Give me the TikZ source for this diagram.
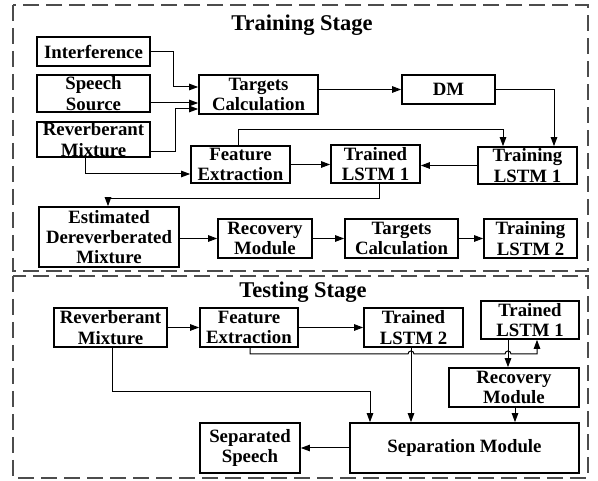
\documentclass[tikz,border=0pt]{standalone}
\usepackage{fontspec}
\setmainfont{Liberation Serif}
\usetikzlibrary{arrows.meta,calc}
\begin{document}
\begin{tikzpicture}[x=1pt,y=-1pt,
  box/.style={draw,line width=1.7pt,inner sep=0pt,align=center,
    font=\fontsize{18.8}{20.3}\selectfont\bfseries},
  arr/.style={line width=1pt,-{Triangle[length=9pt,width=6.5pt]}},
  ln/.style={line width=1pt},
  stage/.style={draw=black!70,line width=1.3pt,dash pattern=on 16pt off 7pt},
  ttl/.style={inner sep=0pt,font=\fontsize{22.5}{24}\selectfont\bfseries}]
\useasboundingbox (0,0) rectangle (598,481);
% stage frames
\draw[stage] (13,5) rectangle (588,271);
\draw[stage] (13,276) rectangle (588,478);
\node[ttl] (t1) at (302,25) {Training Stage};
\node[ttl] (t2) at (303,292) {Testing Stage};
% training nodes
\node[box,minimum width=113pt,minimum height=29pt] (intf) at (93.5,51.5) {Interference};
\node[box,minimum width=113pt,minimum height=37pt] (speech) at (93.5,93.5) {Speech\\Source};
\node[box,minimum width=113pt,minimum height=35pt] (revtr) at (93.5,139.5) {Reverberant\\Mixture};
\node[box,minimum width=119pt,minimum height=39pt] (tc1) at (258.5,94.5) {Targets\\Calculation};
\node[box,minimum width=93pt,minimum height=29pt] (dm) at (448.5,89.5) {DM};
\node[box,minimum width=99pt,minimum height=37pt] (fe1) at (240.5,164.5) {Feature\\Extraction};
\node[box,minimum width=89pt,minimum height=38pt] (trd1) at (375.5,164) {Trained\\LSTM 1};
\node[box,minimum width=99pt,minimum height=37pt] (trn1) at (527.5,165.5) {Training\\LSTM 1};
\node[box,minimum width=140pt,minimum height=60pt] (est) at (109,237) {Estimated\\Dereverberated\\Mixture};
\node[box,minimum width=94pt,minimum height=39pt] (rec1) at (265,238.5) {Recovery\\Module};
\node[box,minimum width=113pt,minimum height=39pt] (tc2) at (401.5,238.5) {Targets\\Calculation};
\node[box,minimum width=93pt,minimum height=39pt] (trn2) at (530.5,238.5) {Training\\LSTM 2};
% testing nodes
\node[box,minimum width=113pt,minimum height=39pt] (rev2) at (110.5,327.5) {Reverberant\\Mixture};
\node[box,minimum width=98pt,minimum height=39pt] (fe2) at (249,327.5) {Feature\\Extraction};
\node[box,minimum width=99pt,minimum height=39pt] (trd2) at (413.5,327.5) {Trained\\LSTM 2};
\node[box,minimum width=98pt,minimum height=38pt] (trd1b) at (530,320) {Trained\\LSTM 1};
\node[box,minimum width=130pt,minimum height=39pt] (rec2) at (514,387.5) {Recovery\\Module};
\node[box,minimum width=229pt,minimum height=50pt] (sep) at (464.5,448) {Separation Module};
\node[box,minimum width=100pt,minimum height=50pt] (ss) at (250,448) {Separated\\Speech};
% training connectors
\draw[arr] (intf.east) -| (173,87) -- (tc1.west |- 0,87);
\draw[arr] (speech.east |- 0,103) -- (tc1.west |- 0,103);
\draw[arr] (revtr.east |- 0,152) -| (175,109) -- (tc1.west |- 0,109);
\draw[arr] (revtr.south -| 85,0) |- (fe1.west |- 0,174);
\draw[arr] (fe1.north -| 238,0) |- (503,130) -- (trn1.north -| 503,0);
\draw[arr] (fe1.east) -- (fe1.east -| trd1.west);
\draw[arr] (trn1.west) -- (trn1.west -| trd1.east);
\draw[arr] (tc1.east |- dm.west) -- (dm.west);
\draw[arr] (dm.east) -| (trn1.north -| 554,0);
\draw[arr] (trd1.south -| 379,0) |- (108,199) -- (est.north -| 108,0);
\draw[arr] (est.east |- rec1.west) -- (rec1.west);
\draw[arr] (rec1.east) -- (tc2.west);
\draw[arr] (tc2.east) -- (trn2.west);
% testing connectors
\draw[arr] (rev2.east) -- (fe2.west);
\draw[arr] (fe2.east) -- (trd2.west);
\draw[arr] (fe2.south -| 250,0) |- (408,354)
  .. controls (408,350) and (414,350) .. (414,354) -- (505,354)
  .. controls (505,350) and (511,350) .. (511,354) -| (trd1b.south -| 537,0);
\draw[arr] (trd2.south -| 411,0) -- (sep.north -| 411,0);
\draw[arr] (trd1b.south -| 508,0) -- (rec2.north -| 508,0);
\draw[arr] (rec2.south -| 515,0) -- (sep.north -| 515,0);
\draw[arr] (rev2.south -| 112,0) |- (370,392) -- (sep.north -| 370,0);
\draw[arr] (sep.west) -- (ss.east);
\end{tikzpicture}
\end{document}
